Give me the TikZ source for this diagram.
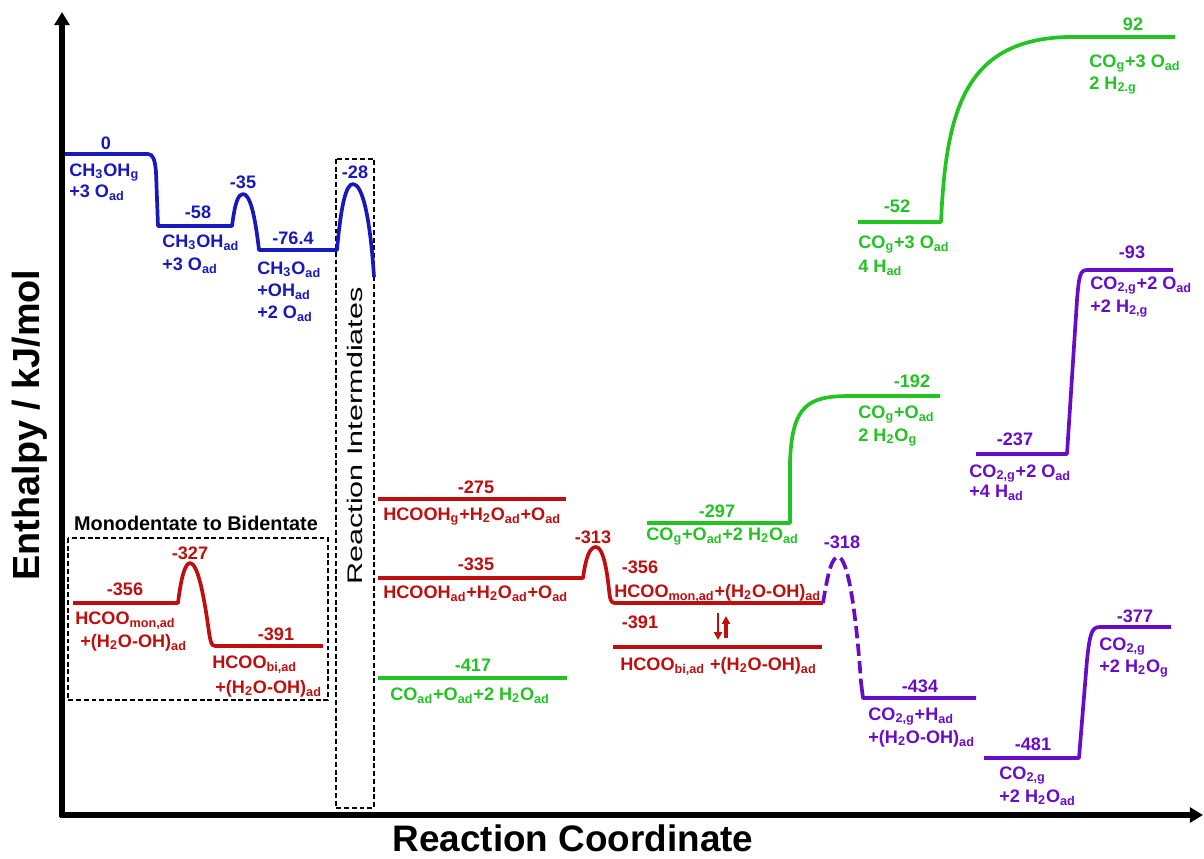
\documentclass[tikz,border=0pt]{standalone}
\usepackage{fontspec}
\setmainfont{Liberation Sans}
\usetikzlibrary{arrows.meta}
\definecolor{cblue}{RGB}{24,24,188}
\definecolor{cred}{RGB}{192,14,14}
\definecolor{cgreen}{RGB}{34,196,34}
\definecolor{cpurp}{RGB}{104,12,200}
\newcommand\dn[1]{\textsubscript{#1}}
\newcommand\lfont{\bfseries\fontsize{10.3}{12}\selectfont}
\begin{document}
\begin{tikzpicture}[x=0.02cm,y=-0.02cm,
  lab/.style={inner sep=0pt, anchor=base west, font=\lfont},
  val/.style={inner sep=0pt, anchor=base, font=\lfont},
  lvl/.style={line width=2.1pt, line join=round},
  axisline/.style={line width=3pt, -{Triangle[width=8.5pt,length=7.5pt]}},
  dbox/.style={draw=black, line width=0.9pt, dash pattern=on 2.8pt off 1.6pt},
  smallarr/.style={cred, -{Triangle[width=4.5pt,length=4.5pt]}}]
\useasboundingbox (0,0) rectangle (1204,859);
% axes
\coordinate (O) at (62,815);
\coordinate (ytip) at (62,12);
\coordinate (xtip) at (1203,815);
\draw[axisline] (62,817) -- (ytip);
\draw[axisline] (60,815) -- (xtip);
\node[font=\bfseries\fontsize{21.5}{24}\selectfont, rotate=90] (ylab) at (30,425) {Enthalpy / kJ/mol};
\node[font=\bfseries\fontsize{21}{24}\selectfont, anchor=base, inner sep=0pt] (xlab) at (573,851) {Reaction Coordinate};

% dashed boxes
\draw[dbox] (336,159) rectangle (374,808);
\node[rotate=90, font=\fontsize{12}{14}\selectfont, inner sep=0pt] (ri) at (355,436) {\scalebox{1.45}[1]{Reaction Intermdiates}};
\draw[dbox] (68,538) rectangle (328,700);
\node[inner sep=0pt, anchor=base, font=\bfseries\fontsize{11.3}{13}\selectfont] (mtb) at (196,530) {Monodentate to Bidentate};

% blue
\draw[lvl,cblue] (65,154) -- (148,154) .. controls (153,154) and (155,160) .. (156,172) -- (158,226) -- (232,226)
  .. controls (235,203) and (238,194) .. (243,194) .. controls (250,194) and (255,215) .. (259,250) -- (337,250)
  .. controls (341,205) and (346,184) .. (353,184) .. controls (362,184) and (370,215) .. (374,277);
\begin{scope}[cblue]
\node[val] (b0) at (106,149) {0};
\node[lab] (b0a) at (69,176) {CH\dn{3}OH\dn{g}};
\node[lab] (b0b) at (69,197) {+3 O\dn{ad}};
\node[val] (b58) at (198,218) {-58};
\node[lab] (b58a) at (162,247) {CH\dn{3}OH\dn{ad}};
\node[lab] (b58b) at (162,270) {+3 O\dn{ad}};
\node[val] (b35) at (243,188) {-35};
\node[val] (b76) at (293,244) {-76.4};
\node[lab] (b76a) at (257,274) {CH\dn{3}O\dn{ad}};
\node[lab] (b76b) at (257,296) {+OH\dn{ad}};
\node[lab] (b76c) at (257,318) {+2 O\dn{ad}};
\node[val] (b28) at (355,178) {-28};
\end{scope}

% red monodentate box
\draw[lvl,cred] (73,603) -- (178,603) .. controls (181,578) and (185,563) .. (190,563)
  .. controls (197,563) and (203,590) .. (208,625) .. controls (210,640) and (211,646) .. (215,646) -- (323,646);
\begin{scope}[cred]
\node[val] (r327) at (190,559) {-327};
\node[val] (r356a) at (125,595) {-356};
\node[lab] (r356aa) at (75,624) {HCOO\dn{mon,ad}};
\node[lab] (r356ab) at (80,647) {+(H\dn{2}O-OH)\dn{ad}};
\node[val] (r391a) at (276,640) {-391};
\node[lab] (r391aa) at (212,668) {HCOO\dn{bi,ad}};
\node[lab] (r391ab) at (215,693) {+(H\dn{2}O-OH)\dn{ad}};
\end{scope}

% middle red
\draw[lvl,cred] (378,499) -- (566,499);
\draw[lvl,cred] (378,578) -- (583,578) .. controls (586,556) and (590,547) .. (596,547)
  .. controls (603,547) and (607,570) .. (609,590) .. controls (610,600) and (611,603) .. (615,603) -- (823,603);
\draw[lvl,cred] (613,647) -- (822,647);
\begin{scope}[cred]
\node[val] (r275) at (476,493) {-275};
\node[lab] (r275a) at (383,520) {HCOOH\dn{g}+H\dn{2}O\dn{ad}+O\dn{ad}};
\node[val] (r335) at (476,570) {-335};
\node[lab] (r335a) at (383,598) {HCOOH\dn{ad}+H\dn{2}O\dn{ad}+O\dn{ad}};
\node[val] (r313) at (593,543) {-313};
\node[val] (r356) at (640,573) {-356};
\node[lab] (r356b) at (614,597) {HCOO\dn{mon,ad}+(H\dn{2}O-OH)\dn{ad}};
\node[val] (r391) at (640,628) {-391};
\node[lab] (r391b) at (620,670) {HCOO\dn{bi,ad} +(H\dn{2}O-OH)\dn{ad}};
\end{scope}
\coordinate (da1) at (718,613);
\coordinate (da2) at (718,640);
\coordinate (ua1) at (726,638);
\coordinate (ua2) at (726,616);
\draw[smallarr, line width=1.2pt] (da1) -- (da2);
\draw[smallarr, line width=1.8pt] (ua1) -- (ua2);

% green
\draw[lvl,cgreen] (378,678) -- (567,678);
\draw[lvl,cgreen] (647,523) -- (790,523) -- (790,462) .. controls (792,405) and (808,396) .. (850,396) -- (940,396);
\draw[lvl,cgreen] (858,222) -- (941,222) .. controls (946,110) and (965,40) .. (1067,37) -- (1175,37);
\begin{scope}[cgreen]
\node[val] (g417) at (473,671) {-417};
\node[lab] (g417a) at (390,700) {CO\dn{ad}+O\dn{ad}+2 H\dn{2}O\dn{ad}};
\node[val] (g297) at (717,517) {-297};
\node[lab] (g297a) at (646,540) {CO\dn{g}+O\dn{ad}+2 H\dn{2}O\dn{ad}};
\node[val] (g192) at (912,387) {-192};
\node[lab] (g192a) at (858,418) {CO\dn{g}+O\dn{ad}};
\node[lab] (g192b) at (858,441) {2 H\dn{2}O\dn{g}};
\node[val] (g52) at (897,212) {-52};
\node[lab] (g52a) at (858,248) {CO\dn{g}+3 O\dn{ad}};
\node[lab] (g52b) at (858,272) {4 H\dn{ad}};
\node[val] (g92) at (1133,30) {92};
\node[lab] (g92a) at (1089,67) {CO\dn{g}+3 O\dn{ad}};
\node[lab] (g92b) at (1089,89) {2 H\dn{2.g}};
\end{scope}

% purple
\coordinate (pd0) at (823,603);
\coordinate (pd1) at (861,682);
\draw[lvl,cpurp,dash pattern=on 7pt off 3pt] (pd0) .. controls (828,572) and (832,557) .. (838,557)
  .. controls (848,557) and (856,612) .. (pd1);
\draw[lvl,cpurp] (pd1) -- (863,698) -- (976,698);
\draw[lvl,cpurp] (984,758) -- (1079,758) -- (1087,660) .. controls (1090,632) and (1092,627) .. (1100,627) -- (1171,627);
\draw[lvl,cpurp] (976,454) -- (1067,454) -- (1077,300) .. controls (1079,276) and (1080,270) .. (1087,270) -- (1173,270);
\begin{scope}[cpurp]
\node[val] (p318) at (842,548) {-318};
\node[val] (p434) at (920,692) {-434};
\node[lab] (p434a) at (868,720) {CO\dn{2,g}+H\dn{ad}};
\node[lab] (p434b) at (868,743) {+(H\dn{2}O-OH)\dn{ad}};
\node[val] (p481) at (1033,750) {-481};
\node[lab] (p481a) at (999,779) {CO\dn{2,g}};
\node[lab] (p481b) at (999,802) {+2 H\dn{2}O\dn{ad}};
\node[val] (p377) at (1135,622) {-377};
\node[lab] (p377a) at (1099,650) {CO\dn{2,g}};
\node[lab] (p377b) at (1099,672) {+2 H\dn{2}O\dn{g}};
\node[val] (p237) at (1015,445) {-237};
\node[lab] (p237a) at (969,477) {CO\dn{2,g}+2 O\dn{ad}};
\node[lab] (p237b) at (969,497) {+4 H\dn{ad}};
\node[val] (p93) at (1132,258) {-93};
\node[lab] (p93a) at (1090,289) {CO\dn{2,g}+2 O\dn{ad}};
\node[lab] (p93b) at (1090,312) {+2 H\dn{2,g}};
\end{scope}
\end{tikzpicture}
\end{document}
